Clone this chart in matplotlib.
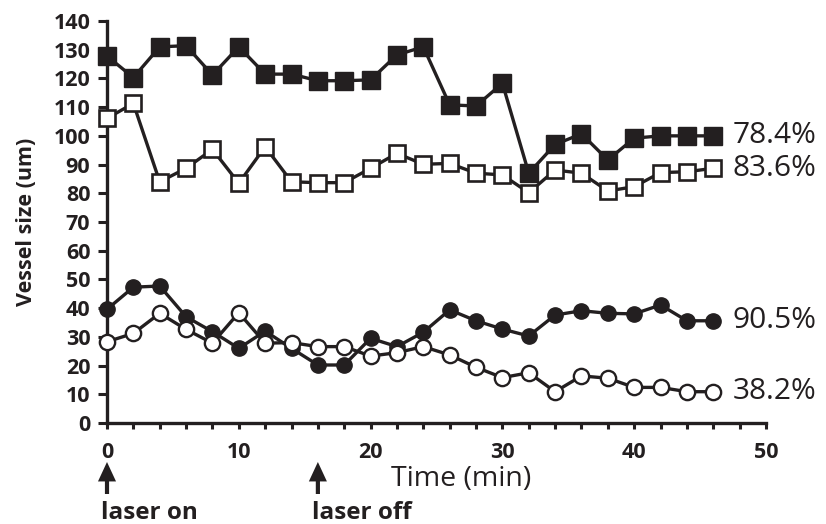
import matplotlib
matplotlib.use("Agg")
import matplotlib.pyplot as plt
import numpy as np

plt.rcParams['font.family'] = ['Open Sans', 'DejaVu Sans']

time_min = [0, 2, 4, 6, 8, 10, 12, 14, 16, 18, 20, 22, 24, 26, 28, 30, 32, 34, 36, 38, 40, 42, 44, 46]
filled_squares = [127.8, 120.3, 131, 131.4, 121.2, 131, 121.5, 121.5, 119.2, 119.2, 119.5, 128.2, 131,
                  110.8, 110.4, 118.3, 87, 97, 100.7, 91.6, 99.2, 100, 100, 100]
open_squares = [106.1, 111.3, 84, 88.7, 95.3, 83.5, 96.2, 84, 83.7, 83.7, 88.7, 93.9, 90.1,
                90.4, 87, 86.4, 80.2, 88.1, 87, 80.8, 82.3, 87.2, 87.5, 88.7]
filled_circles = [39.6, 47.3, 47.7, 37, 31.8, 26, 32, 26, 20.2, 20.2, 29.5, 26.6, 31.6,
                  39.4, 35.6, 32.7, 30.3, 37.6, 39.1, 38.2, 38, 41.1, 35.6, 35.6]
open_circles = [28.3, 31.2, 38.2, 32.6, 27.8, 38.4, 27.8, 28, 26.6, 26.6, 23.3, 24.5, 26.6,
                23.7, 19.4, 15.8, 17.5, 10.9, 16.4, 15.6, 12.4, 12.4, 10.9, 10.9]
end_labels = ["78.4%", "83.6%", "90.5%", "38.2%"]
x_ticks = [0, 10, 20, 30, 40, 50]
y_ticks = list(range(0, 141, 10))
events = [(0, "laser on"), (16, "laser off")]

ink = '#231f20'
W, H = 826, 524
fig = plt.figure(figsize=(W / 100, H / 100), dpi=100)
x0, x1, ytop, ybot = 107, 766, 21, 423
ax = fig.add_axes([x0 / W, 1 - ybot / H, (x1 - x0) / W, (ybot - ytop) / H])
ax.set_xlim(0, 50)
ax.set_ylim(0, 140)

lw = 2.4
ax.plot(time_min, filled_squares, color=ink, lw=lw, marker='s', ms=12.5, mfc=ink, mec=ink, clip_on=False, zorder=3)
ax.plot(time_min, open_squares, color=ink, lw=lw, marker='s', ms=11.5, mfc='white', mec=ink, mew=1.9, clip_on=False, zorder=3)
ax.plot(time_min, filled_circles, color=ink, lw=lw, marker='o', ms=11, mfc=ink, mec=ink, clip_on=False, zorder=4)
ax.plot(time_min, open_circles, color=ink, lw=lw, marker='o', ms=11, mfc='white', mec=ink, mew=1.7, clip_on=False, zorder=4)

for series, lab in zip([filled_squares, open_squares, filled_circles, open_circles], end_labels):
    ax.text(47.45, series[-1], lab, fontsize=21.5, color=ink, va='center', ha='left')

for s in ['top', 'right']:
    ax.spines[s].set_visible(False)
for s in ['left', 'bottom']:
    ax.spines[s].set_linewidth(2.4)
    ax.spines[s].set_color(ink)

ax.set_xticks(x_ticks)
ax.set_xticks(np.arange(0, 51, 2), minor=True)
ax.set_yticks(y_ticks)
ax.tick_params(axis='x', which='both', direction='out', length=4.5, width=2.2, color=ink, pad=9)
ax.tick_params(axis='y', direction='out', length=6.5, width=2.2, color=ink, pad=5.5)
for lbl in ax.get_xticklabels() + ax.get_yticklabels():
    lbl.set_fontweight('bold')
    lbl.set_fontsize(15.5)
    lbl.set_color(ink)

ax.set_ylabel("Vessel size (um)", fontsize=15.5, fontweight='bold', color=ink, labelpad=12)
fig.text(461 / W, 1 - 486 / H, "Time (min)", fontsize=20.5, color=ink, ha='center', va='baseline')

ppu = (ybot - ytop) / 140.0
for xv, txt in events:
    px = x0 + xv * (x1 - x0) / 50
    ax.annotate("", xy=(xv, (ybot - 462) / ppu), xycoords='data',
                xytext=(xv, (ybot - 494) / ppu), textcoords='data',
                arrowprops=dict(width=3, headwidth=13, headlength=14, shrink=0.0,
                                facecolor=ink, edgecolor=ink, lw=0),
                annotation_clip=False)
    fig.text((px - 6) / W, 1 - 519 / H, txt, fontsize=17.5, fontweight='bold', color=ink, ha='left', va='baseline')

fig.savefig("out.png", dpi=100)
